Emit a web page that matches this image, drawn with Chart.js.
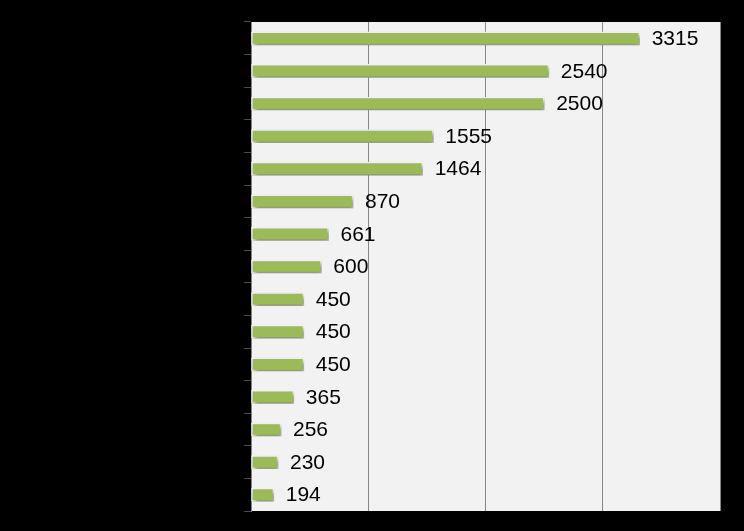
<!DOCTYPE html>
<html>
<head>
<meta charset="utf-8">
<script src="https://cdn.jsdelivr.net/npm/chart.js@4"></script>
<style>
    html, body { margin: 0; padding: 0; background: #000; }
    #wrap { width: 744px; height: 531px; }
</style>
</head>
<body>
<div id="wrap"><canvas id="barChart" width="744" height="531"></canvas></div>
<script>
// Category names are drawn black on black in the original, so they are left blank
const categories = ['', '', '', '', '', '', '', '', '', '', '', '', '', '', ''];
const values = [3315, 2540, 2500, 1555, 1464, 870, 661, 600, 450, 450, 450, 365, 256, 230, 194];
const xTicks = [0, 1000, 2000, 3000, 4000];

// Light grey plot area behind the bars
const plotBackground = {
    id: 'plotBackground',
    beforeDraw(chart) {
        const { ctx, chartArea } = chart;
        ctx.save();
        ctx.fillStyle = '#f2f2f2';
        ctx.fillRect(chartArea.left, chartArea.top, chartArea.right - chartArea.left, chartArea.bottom - chartArea.top);
        ctx.restore();
    }
};

// Soft drop shadow under each bar
const barShadow = {
    id: 'barShadow',
    beforeDatasetsDraw(chart) {
        const ctx = chart.ctx;
        ctx.save();
        ctx.shadowColor = 'rgba(0, 0, 0, 0.45)';
        ctx.shadowBlur = 4;
        ctx.shadowOffsetX = 2;
        ctx.shadowOffsetY = 3;
    },
    afterDatasetsDraw(chart) {
        chart.ctx.restore();
    }
};

// Value labels to the right of the bars
const valueLabels = {
    id: 'valueLabels',
    afterDatasetsDraw(chart) {
        const ctx = chart.ctx;
        const meta = chart.getDatasetMeta(0);
        ctx.save();
        ctx.shadowColor = 'transparent';
        ctx.font = '21px "Liberation Sans", Arial, sans-serif';
        ctx.fillStyle = '#000';
        ctx.textAlign = 'left';
        ctx.textBaseline = 'middle';
        meta.data.forEach((bar, i) => {
            ctx.fillText(String(values[i]), bar.x + 12, bar.y + 1);
        });
        ctx.restore();
    }
};

const ctx = document.getElementById('barChart').getContext('2d');
new Chart(ctx, {
    type: 'bar',
    data: {
        labels: categories,
        datasets: [{
            data: values,
            backgroundColor: '#9bbb59',
            borderColor: '#f3f7ea',
            borderWidth: 1.5,
            borderSkipped: false,
            barThickness: 13
        }]
    },
    options: {
        indexAxis: 'y',
        responsive: false,
        animation: false,
        layout: { padding: { top: 22, bottom: 20, right: 24, left: 0 } },
        plugins: {
            legend: { display: false },
            tooltip: { enabled: false }
        },
        scales: {
            x: {
                min: 0,
                max: 4000,
                afterBuildTicks: (scale) => { scale.ticks = xTicks.map(v => ({ value: v })); },
                afterFit: (scale) => { scale.height = 0; },
                ticks: { display: false },
                grid: { color: '#868686', lineWidth: 1, drawTicks: false },
                border: { display: false }
            },
            y: {
                afterFit: (scale) => { scale.width = 251; },
                ticks: { display: false },
                grid: { drawOnChartArea: false, drawTicks: true, tickLength: 7, color: '#4a4a4a', offset: true },
                border: { display: true, color: '#868686', width: 1 }
            }
        }
    },
    plugins: [plotBackground, barShadow, valueLabels]
});
</script>
</body>
</html>
